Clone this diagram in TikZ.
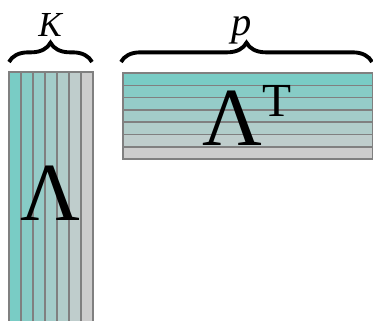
\documentclass[tikz,border=0pt]{standalone}
\usepackage{fontspec}
\setmainfont{Liberation Serif}
\usetikzlibrary{decorations.pathreplacing}
\definecolor{loadteal}{RGB}{121,204,197}
\definecolor{loadgrey}{RGB}{205,205,205}
\definecolor{cellline}{RGB}{128,128,128}
\tikzset{
    cell/.style     = {draw=cellline, line width=0.8pt},
    dimbrace/.style = {decorate, line width=2.2pt,
                       decoration={brace, amplitude=11pt}},
    dimlabel/.style = {font=\fontsize{20}{20}\selectfont\itshape,
                       inner sep=0pt},
    symbol/.style   = {font=\fontsize{47}{47}\selectfont, inner sep=0pt}
}
\def\lamtop{72}
\def\lamtopT{73}

\begin{document}
\begin{tikzpicture}[x=0.2mm, y=-0.2mm]
\useasboundingbox (0,0) rectangle (373,321);
\clip (0,0) rectangle (373,321);

% Loading matrix, one column per factor.
\foreach \c [evaluate=\c as \mix using 100-\c*100/6] in {0,...,6}
    \filldraw[cell, fill=loadteal!\mix!loadgrey]
        (9+\c*12,\lamtop) rectangle (21+\c*12,330);
\node[symbol, anchor=base] (lam) at (50,220) {Λ};

% Its transpose, one row per factor.
\foreach \r [evaluate=\r as \mix using 100-\r*100/6] in {0,...,6}
    \filldraw[cell, fill=loadteal!\mix!loadgrey]
        (123,\lamtopT+\r*12.3) rectangle (372.5,\lamtopT+\r*12.3+12.3);
\node[symbol, anchor=base west] (lamT) at (202,145)
    {Λ\raisebox{16pt}{\fontsize{27}{27}\selectfont T}};

% Dimension braces.
\coordinate (kl) at (9,62);
\coordinate (kr) at (92,62);
\coordinate (pl) at (121,62);
\coordinate (pr) at (372,62);
\draw[dimbrace] (kl) -- (kr);
\draw[dimbrace] (pl) -- (pr);
\node[dimlabel, anchor=base] (dimK) at (50,37) {K};
\node[dimlabel, anchor=base, font=\fontsize{23}{23}\selectfont\itshape]
    (dimp) at (242,36) {p};

\end{tikzpicture}
\end{document}
